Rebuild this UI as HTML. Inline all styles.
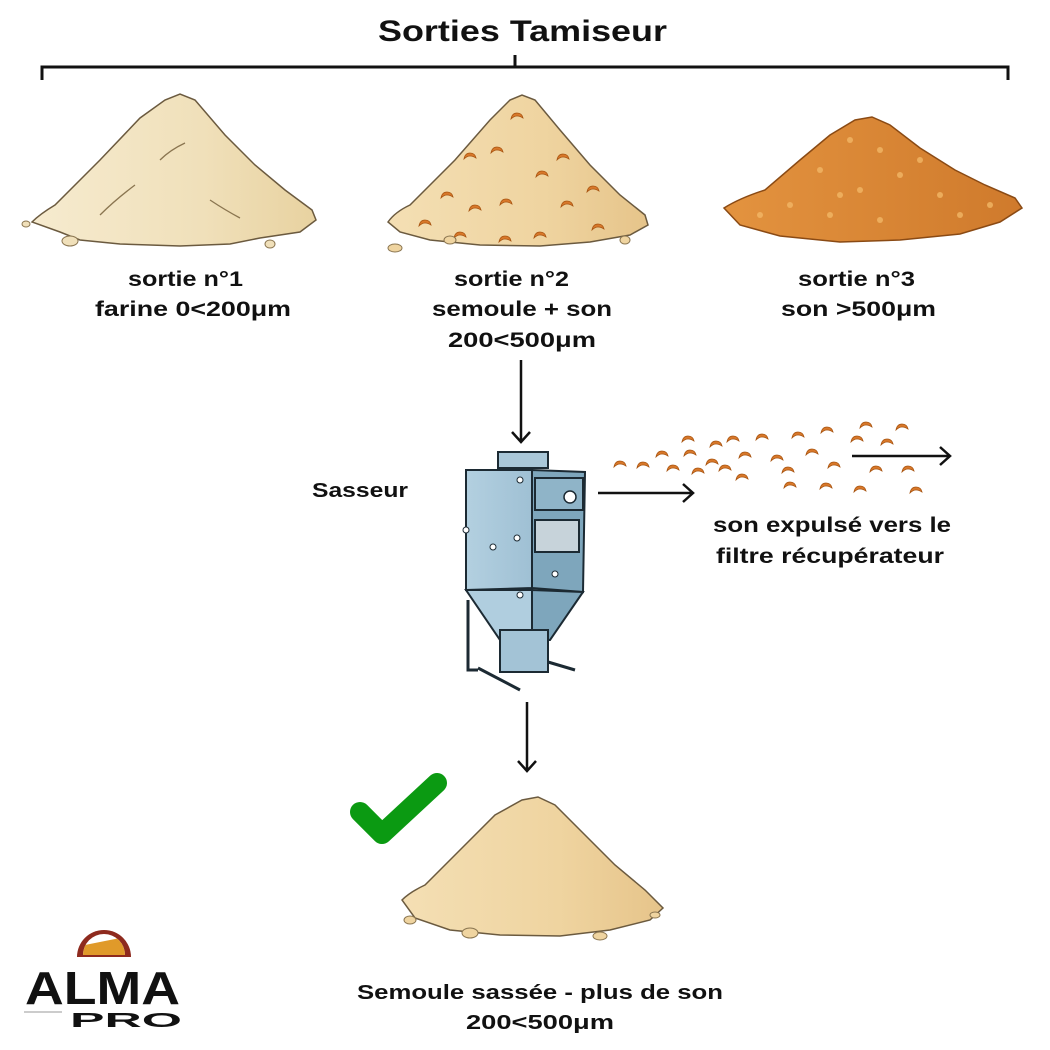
<!DOCTYPE html>
<html><head><meta charset="utf-8"><style>
html,body{margin:0;padding:0;background:#fff}
svg{display:block}
text{font-family:"Liberation Sans",sans-serif;font-weight:bold;fill:#111}
</style></head><body>
<svg width="1050" height="1050" viewBox="0 0 1050 1050" xmlns="http://www.w3.org/2000/svg">
<defs>
<linearGradient id="g1" x1="0" x2="1"><stop offset="0" stop-color="#f6ebcf"/><stop offset="0.6" stop-color="#f0e0ba"/><stop offset="1" stop-color="#e8d2a0"/></linearGradient>
<linearGradient id="g2" x1="0" x2="1"><stop offset="0" stop-color="#f4dfb4"/><stop offset="0.6" stop-color="#efd4a0"/><stop offset="1" stop-color="#e6c48a"/></linearGradient>
<linearGradient id="g3" x1="0" x2="1"><stop offset="0" stop-color="#e3933f"/><stop offset="1" stop-color="#cf7a2c"/></linearGradient>
<linearGradient id="gm" x1="0" x2="1"><stop offset="0" stop-color="#b3d0e0"/><stop offset="1" stop-color="#9fc0d4"/></linearGradient>
<clipPath id="inner"><path d="M83,955 A21,21 0 0 1 125,955 Z"/></clipPath>
<g id="fl"><path d="M-6,2 Q-5,-4 0,-4 Q5,-4 6,1 Q3,-1 0,-1 Q-3,-1 -6,2Z" fill="#d8782a" stroke="#a85512" stroke-width="0.8"/></g>
</defs>

<text x="378" y="41" font-size="30" textLength="289" lengthAdjust="spacingAndGlyphs">Sorties Tamiseur</text>
<path d="M42,80 V67 H1008 V80 M515,55 V67" fill="none" stroke="#111" stroke-width="3"/>

<!-- pile 1 -->
<path d="M32,222 Q40,214 55,205 L100,160 L140,118 L165,100 L180,94 L195,100 L225,135 L255,165 L285,190 L312,210 L316,220 L300,232 L260,238 L230,244 L180,246 L120,244 L80,240 L60,232 Z" fill="url(#g1)" stroke="#6b5a3f" stroke-width="1.5"/>
<path d="M100,215 Q115,200 135,185 M160,160 Q170,150 185,143 M210,200 Q225,210 240,218" stroke="#8a7550" stroke-width="1.3" fill="none"/>
<ellipse cx="70" cy="241" rx="8" ry="5" fill="#f0e0ba" stroke="#8a7550"/><ellipse cx="270" cy="244" rx="5" ry="4" fill="#f0e0ba" stroke="#8a7550"/><ellipse cx="26" cy="224" rx="4" ry="3" fill="#f0e0ba" stroke="#8a7550"/>

<!-- pile 2 -->
<path d="M388,222 Q395,212 410,205 L455,160 L490,120 L510,100 L522,95 L535,100 L560,130 L590,165 L620,195 L645,215 L648,225 L630,235 L590,242 L540,246 L480,245 L430,240 L400,232 Z" fill="url(#g2)" stroke="#6b5a3f" stroke-width="1.5"/>
<use href="#fl" x="517" y="117"/><use href="#fl" x="470" y="157"/><use href="#fl" x="497" y="151"/><use href="#fl" x="563" y="158"/><use href="#fl" x="542" y="175"/><use href="#fl" x="447" y="196"/><use href="#fl" x="475" y="209"/><use href="#fl" x="506" y="203"/><use href="#fl" x="567" y="205"/><use href="#fl" x="593" y="190"/><use href="#fl" x="425" y="224"/><use href="#fl" x="460" y="236"/><use href="#fl" x="505" y="240"/><use href="#fl" x="540" y="236"/><use href="#fl" x="598" y="228"/>
<ellipse cx="395" cy="248" rx="7" ry="4" fill="#efd4a0" stroke="#8a7550"/><ellipse cx="450" cy="240" rx="6" ry="4" fill="#efd4a0" stroke="#8a7550"/><ellipse cx="625" cy="240" rx="5" ry="4" fill="#efd4a0" stroke="#8a7550"/>

<!-- pile 3 -->
<path d="M724,208 Q740,198 765,190 L800,160 L830,135 L855,120 L872,117 L890,125 L920,148 L955,170 L985,185 L1015,198 L1022,208 L1000,222 L960,234 L900,240 L840,242 L780,236 L740,225 Z" fill="url(#g3)" stroke="#8a4a14" stroke-width="1.5"/>
<g fill="#f2b766" opacity="0.8"><circle cx="850" cy="140" r="3"/><circle cx="880" cy="150" r="3"/><circle cx="820" cy="170" r="3"/><circle cx="900" cy="175" r="3"/><circle cx="860" cy="190" r="3"/><circle cx="940" cy="195" r="3"/><circle cx="790" cy="205" r="3"/><circle cx="830" cy="215" r="3"/><circle cx="880" cy="220" r="3"/><circle cx="960" cy="215" r="3"/><circle cx="760" cy="215" r="3"/><circle cx="920" cy="160" r="3"/><circle cx="840" cy="195" r="3"/><circle cx="990" cy="205" r="3"/></g>

<g font-size="21">
<text x="128" y="286" textLength="115" lengthAdjust="spacingAndGlyphs">sortie n°1</text>
<text x="95" y="316" textLength="196" lengthAdjust="spacingAndGlyphs">farine 0&lt;200μm</text>
<text x="454" y="286" textLength="115" lengthAdjust="spacingAndGlyphs">sortie n°2</text>
<text x="432" y="316" textLength="180" lengthAdjust="spacingAndGlyphs">semoule + son</text>
<text x="448" y="347" textLength="148" lengthAdjust="spacingAndGlyphs">200&lt;500μm</text>
<text x="798" y="286" textLength="117" lengthAdjust="spacingAndGlyphs">sortie n°3</text>
<text x="781" y="316" textLength="155" lengthAdjust="spacingAndGlyphs">son &gt;500μm</text>
</g>

<!-- arrow down -->
<path d="M521,360 V442 M512,432 L521,442 L530,432" fill="none" stroke="#111" stroke-width="2.5"/>
<text x="312" y="497" font-size="20" textLength="96" lengthAdjust="spacingAndGlyphs">Sasseur</text>

<!-- machine -->
<g stroke="#1c2a33" stroke-width="2">
<rect x="498" y="452" width="50" height="16" fill="#a9c7d8"/>
<path d="M466,470 L532,470 L532,588 L466,590 Z" fill="url(#gm)"/>
<path d="M532,470 L585,472 L583,592 L532,588 Z" fill="#7ea6bc"/>
<path d="M466,590 L532,590 L532,640 L500,640 Z" fill="#b0cedf"/>
<path d="M532,590 L583,592 L550,640 L532,640 Z" fill="#7ea6bc"/>
<rect x="500" y="630" width="48" height="42" fill="#a3c3d6"/>
<rect x="535" y="478" width="48" height="32" fill="#8fb4c8"/>
<rect x="535" y="520" width="44" height="32" fill="#c7d3da"/>
<path d="M468,600 V670 H478 M478,668 L520,690 M548,662 L575,670" fill="none" stroke-width="3"/>
</g>
<circle cx="570" cy="497" r="6" fill="#fff" stroke="#1c2a33" stroke-width="1.5"/>
<g fill="#fff" stroke="#1c2a33"><circle cx="520" cy="480" r="3"/><circle cx="493" cy="547" r="3"/><circle cx="517" cy="538" r="3"/><circle cx="520" cy="595" r="3"/><circle cx="466" cy="530" r="3"/><circle cx="555" cy="574" r="3"/></g>

<!-- arrows right -->
<path d="M598,493 H693 M683,484 L693,493 L683,502" fill="none" stroke="#111" stroke-width="2.5"/>
<path d="M852,456 H950 M940,447 L950,456 L940,465" fill="none" stroke="#111" stroke-width="2.5"/>
<g>
<use href="#fl" x="620" y="465"/><use href="#fl" x="643" y="466"/><use href="#fl" x="662" y="455"/><use href="#fl" x="688" y="440"/><use href="#fl" x="690" y="454"/><use href="#fl" x="673" y="469"/><use href="#fl" x="698" y="472"/><use href="#fl" x="712" y="463"/><use href="#fl" x="716" y="445"/><use href="#fl" x="733" y="440"/><use href="#fl" x="725" y="469"/><use href="#fl" x="742" y="478"/><use href="#fl" x="745" y="456"/><use href="#fl" x="762" y="438"/><use href="#fl" x="777" y="459"/><use href="#fl" x="788" y="471"/><use href="#fl" x="812" y="453"/><use href="#fl" x="798" y="436"/><use href="#fl" x="790" y="486"/><use href="#fl" x="827" y="431"/><use href="#fl" x="834" y="466"/><use href="#fl" x="826" y="487"/><use href="#fl" x="857" y="440"/><use href="#fl" x="866" y="426"/><use href="#fl" x="887" y="443"/><use href="#fl" x="902" y="428"/><use href="#fl" x="876" y="470"/><use href="#fl" x="908" y="470"/><use href="#fl" x="860" y="490"/><use href="#fl" x="916" y="491"/>
</g>
<text x="713" y="532" font-size="21" textLength="238" lengthAdjust="spacingAndGlyphs">son expulsé vers le</text>
<text x="716" y="563" font-size="21" textLength="228" lengthAdjust="spacingAndGlyphs">filtre récupérateur</text>

<path d="M527,702 V771 M518,761 L527,771 L536,761" fill="none" stroke="#111" stroke-width="2.5"/>
<path d="M360,812 L382,834 L437,783" fill="none" stroke="#0b9a12" stroke-width="20" stroke-linecap="round" stroke-linejoin="round"/>

<!-- pile 4 -->
<path d="M402,900 Q410,892 425,885 L460,850 L495,815 L522,800 L538,797 L555,805 L585,835 L615,865 L645,890 L663,908 L650,920 L610,930 L560,936 L500,935 L450,930 L415,918 Z" fill="url(#g2)" stroke="#6b5a3f" stroke-width="1.5"/>
<ellipse cx="410" cy="920" rx="6" ry="4" fill="#efd4a0" stroke="#8a7550"/><ellipse cx="470" cy="933" rx="8" ry="5" fill="#efd4a0" stroke="#8a7550"/><ellipse cx="600" cy="936" rx="7" ry="4" fill="#efd4a0" stroke="#8a7550"/><ellipse cx="655" cy="915" rx="5" ry="3" fill="#efd4a0" stroke="#8a7550"/>

<text x="357" y="999" font-size="20" textLength="366" lengthAdjust="spacingAndGlyphs">Semoule sassée - plus de son</text>
<text x="466" y="1029" font-size="20" textLength="148" lengthAdjust="spacingAndGlyphs">200&lt;500μm</text>

<!-- logo -->
<path d="M77,957 A27,27 0 0 1 131,957 Z" fill="#8e2a1e"/>
<g clip-path="url(#inner)">
<rect x="80" y="925" width="50" height="35" fill="#fff"/>
<path d="M80,946 L130,936 L130,960 L80,960 Z" fill="#e09a2a"/>
</g>
<text x="25" y="1004" font-size="46" font-weight="900" textLength="155" lengthAdjust="spacingAndGlyphs">ALMA</text>
<line x1="24" y1="1012" x2="62" y2="1012" stroke="#999" stroke-width="1"/>
<text x="70" y="1027" font-size="20" font-weight="normal" textLength="112" lengthAdjust="spacingAndGlyphs">PRO</text>
</svg>
</body></html>
